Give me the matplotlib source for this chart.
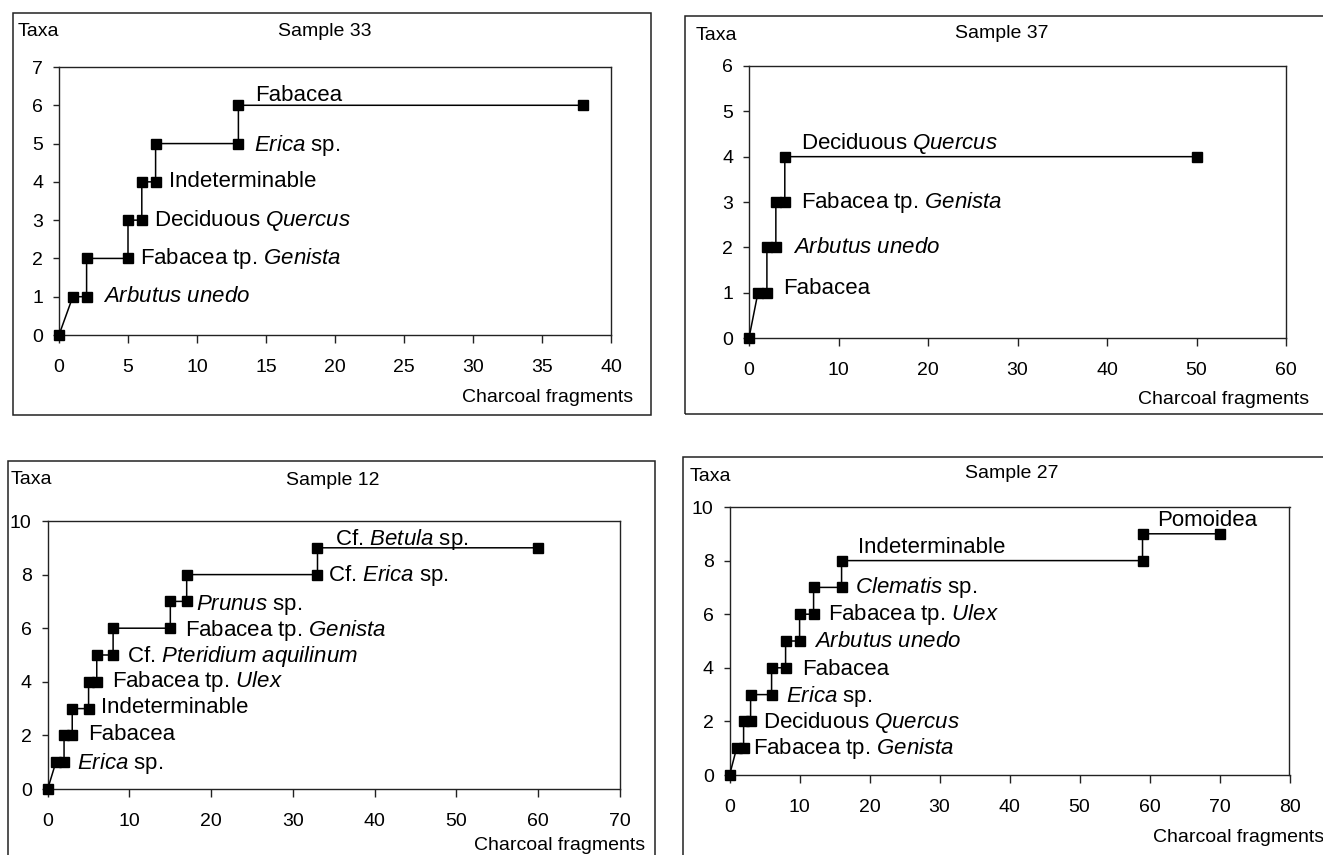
import matplotlib
matplotlib.use("Agg")
import matplotlib.pyplot as plt
from matplotlib.patches import Rectangle

plt.rcParams['font.family'] = ['Liberation Sans', 'DejaVu Sans']
plt.rcParams['mathtext.fontset'] = 'custom'
plt.rcParams['mathtext.rm'] = 'Liberation Sans'
plt.rcParams['mathtext.it'] = 'Liberation Sans:italic'

W, H = 1323, 855

# ---- data ----
s33_x = [0, 1, 2, 2, 5, 5, 6, 6, 7, 7, 13, 13, 38]
s33_y = [0, 1, 1, 2, 2, 3, 3, 4, 4, 5, 5, 6, 6]
s33_taxa = [r"$\mathit{Arbutus\ unedo}$", r"Fabacea tp. $\mathit{Genista}$",
            r"Deciduous $\mathit{Quercus}$", "Indeterminable",
            r"$\mathit{Erica}$ sp.", "Fabacea"]

s37_x = [0, 1, 2, 2, 3, 3, 4, 4, 50]
s37_y = [0, 1, 1, 2, 2, 3, 3, 4, 4]
s37_taxa = ["Fabacea", r"$\mathit{Arbutus\ unedo}$",
            r"Fabacea tp. $\mathit{Genista}$", r"Deciduous $\mathit{Quercus}$"]

s12_x = [0, 1, 2, 2, 3, 3, 5, 5, 6, 6, 8, 8, 15, 15, 17, 17, 33, 33, 60]
s12_y = [0, 1, 1, 2, 2, 3, 3, 4, 4, 5, 5, 6, 6, 7, 7, 8, 8, 9, 9]
s12_taxa = [r"$\mathit{Erica}$ sp.", "Fabacea", "Indeterminable",
            r"Fabacea tp. $\mathit{Ulex}$", r"Cf. $\mathit{Pteridium\ aquilinum}$",
            r"Fabacea tp. $\mathit{Genista}$", r"$\mathit{Prunus}$ sp.",
            r"Cf. $\mathit{Erica}$ sp.", r"Cf. $\mathit{Betula}$ sp."]

s27_x = [0, 1, 2, 2, 3, 3, 6, 6, 8, 8, 10, 10, 12, 12, 16, 16, 59, 59, 70]
s27_y = [0, 1, 1, 2, 2, 3, 3, 4, 4, 5, 5, 6, 6, 7, 7, 8, 8, 9, 9]
s27_taxa = [r"Fabacea tp. $\mathit{Genista}$", r"Deciduous $\mathit{Quercus}$",
            r"$\mathit{Erica}$ sp.", "Fabacea", r"$\mathit{Arbutus\ unedo}$",
            r"Fabacea tp. $\mathit{Ulex}$", r"$\mathit{Clematis}$ sp.",
            "Indeterminable", "Pomoidea"]

# ---- layout (pixels, top-left origin) ----
panels = [
    dict(title="Sample 33", x=s33_x, y=s33_y, taxa=s33_taxa,
         lx=[3.2, 5.9, 6.9, 8.0, 14.1, 14.2], ly=[1, 2, 3, 4, 4.95, 6.25],
         xlim=40, xstep=5, ylim=7, ystep=1,
         frame=(12.7, 13, 651, 415), axes=(59, 67, 611, 335),
         taxa_pos=(18, 32), title_pos=(325, 32), xl_pos=(633, 397)),
    dict(title="Sample 37", x=s37_x, y=s37_y, taxa=s37_taxa,
         lx=[3.8, 4.9, 5.8, 5.8], ly=[1.1, 2.0, 3.0, 4.3],
         xlim=60, xstep=10, ylim=6, ystep=1,
         frame=(685, 16, 1340, 414), axes=(749, 66, 1286, 338),
         taxa_pos=(696, 35), title_pos=(1002, 33), xl_pos=(1309, 399)),
    dict(title="Sample 12", x=s12_x, y=s12_y, taxa=s12_taxa,
         lx=[3.6, 5.0, 6.55, 7.85, 9.65, 16.8, 18.2, 34.3, 35.1],
         ly=[0.95, 2.05, 3.05, 4.0, 4.95, 5.9, 6.85, 7.95, 9.3],
         xlim=70, xstep=10, ylim=10, ystep=2,
         frame=(7.6, 461, 655, 870), axes=(47.7, 521, 620, 789),
         taxa_pos=(10.5, 479), title_pos=(333, 480), xl_pos=(645, 845)),
    dict(title="Sample 27", x=s27_x, y=s27_y, taxa=s27_taxa,
         lx=[3.3, 4.8, 8.0, 10.3, 12.1, 14.1, 17.9, 18.4, 61.1],
         ly=[1.0, 1.95, 2.92, 3.95, 5.0, 6.0, 7.0, 8.5, 9.5],
         xlim=80, xstep=10, ylim=10, ystep=2,
         frame=(683, 457, 1340, 870), axes=(729.6, 507, 1289.5, 775),
         taxa_pos=(690, 476), title_pos=(1012, 474), xl_pos=(1324, 837)),
]


def fx(px):
    return px / W


def fy(py):
    return 1 - py / H


fig = plt.figure(figsize=(W / 100, H / 100), dpi=100)

for p in panels:
    x0, y0, x1, y1 = p["frame"]
    fig.add_artist(Rectangle((fx(x0), fy(y1)), (x1 - x0) / W, (y1 - y0) / H,
                             transform=fig.transFigure, fill=False,
                             ec="#222222", lw=1.1))
    a0, b0, a1, b1 = p["axes"]
    ax = fig.add_axes([fx(a0), fy(b1), (a1 - a0) / W, (b1 - b0) / H])
    ax.plot(p["x"], p["y"], color="black", lw=1.1, marker="s",
            markersize=6.5, clip_on=False, zorder=3)
    for name, tx, ty in zip(p["taxa"], p["lx"], p["ly"]):
        ax.text(tx, ty, name, fontsize=16, ha="left", va="center")
    ax.set_xlim(0, p["xlim"])
    ax.set_ylim(0, p["ylim"])
    ax.set_xticks(range(0, p["xlim"] + 1, p["xstep"]))
    ax.set_yticks(range(0, p["ylim"] + 1, p["ystep"]))
    ax.tick_params(axis="x", direction="out", length=6, width=1,
                   labelsize=14, pad=11, color="#222222")
    ax.tick_params(axis="y", direction="out", length=4.5, width=1,
                   labelsize=14, pad=7, color="#222222")
    for s in ax.spines.values():
        s.set_color("#222222")
        s.set_linewidth(1.0)
    fig.text(fx(p["taxa_pos"][0]), fy(p["taxa_pos"][1]), "Taxa",
             fontsize=14, ha="left", va="center")
    fig.text(fx(p["title_pos"][0]), fy(p["title_pos"][1]), p["title"],
             fontsize=14, ha="center", va="center")
    fig.text(fx(p["xl_pos"][0]), fy(p["xl_pos"][1]), "Charcoal fragments",
             fontsize=14, ha="right", va="center")

fig.savefig("out.png", dpi=100)
